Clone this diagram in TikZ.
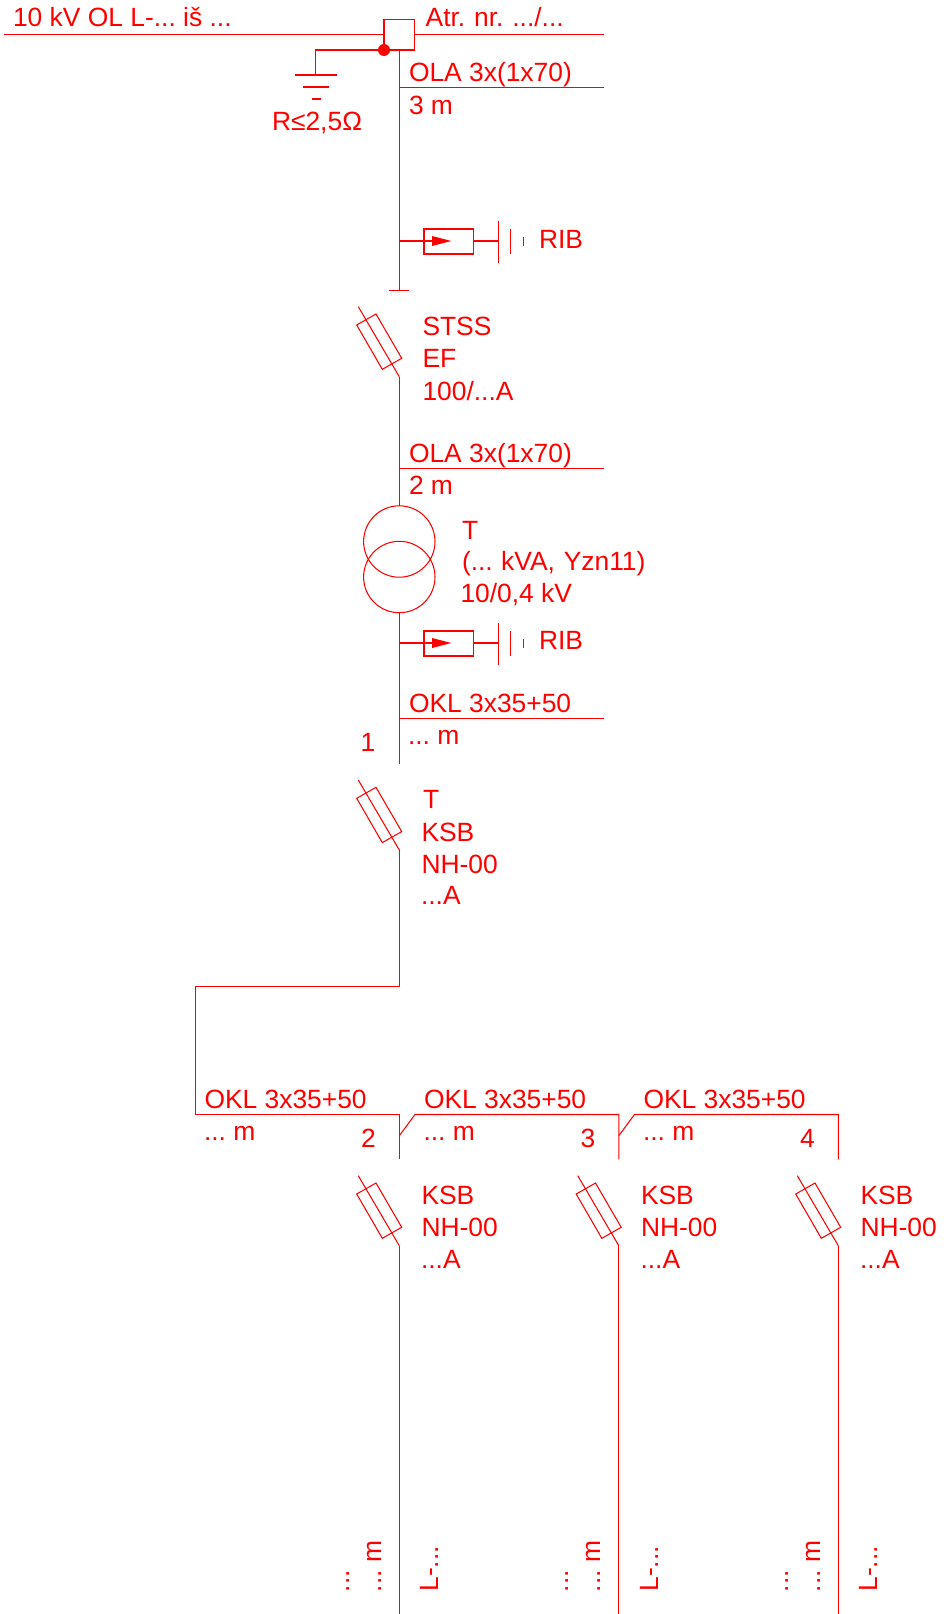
\documentclass[tikz,border=0pt]{standalone}
\usepackage{fontspec}
\setmainfont{Liberation Sans}
\frenchspacing
\definecolor{schem}{RGB}{255,0,0}
\tikzset{
  wire/.style={draw=schem,line width=1.05pt,line cap=butt,line join=miter},
  lbl/.style={text=schem,anchor=base west,inner sep=0pt,outer sep=0pt,font=\fontsize{26.4}{31}\selectfont},
  vlbl/.style={lbl,rotate=90},
  fusesym/.pic={
    \draw[wire] (-41,-70) -- (0,0);
    \draw[wire] (-42.6,-51.7) -- (-23.3,-62.7) -- (2.4,-18.4) -- (-17,-7.4) -- cycle;
  },
  arrester/.pic={
    \draw[wire] (0,0) -- (33,0);
    \draw[wire] (24.7,-12) rectangle (74.4,13);
    \fill[schem] (32.7,-5) -- (52,0) -- (32.7,5) -- cycle;
    \draw[wire] (74.4,0) -- (99,0);
    \draw[wire] (99,-20.5) -- (99,21.5);
    \draw[wire] (111.4,-12) -- (111.4,13);
    \draw[wire] (124,-4) -- (124,5);
  },
}
\begin{document}
\begin{tikzpicture}[x=1pt,y=-1pt]
\useasboundingbox (0,0) rectangle (943,1614);
% ---- junctions
\coordinate (lineL) at (4,34.3);
\coordinate (lineR) at (604,34.3);
\coordinate (sw1) at (384,19.3);
\coordinate (sw2) at (414.7,50);
\coordinate (dot) at (384,50);
\coordinate (tap) at (399.3,50);
\coordinate (gndTop) at (315.7,50);
\coordinate (gndBar) at (315.7,75);
\coordinate (stubEnd) at (399.3,290.7);
\coordinate (f1) at (399.3,376.7);
\coordinate (f2) at (399.3,850);
\coordinate (a1) at (399.3,241);
\coordinate (a2) at (399.3,643);
\coordinate (tr1) at (399.3,541.5);
\coordinate (tr2) at (399.3,577);
\coordinate (m1) at (399.3,764);
\coordinate (bendA) at (399.3,986.5);
\coordinate (bendB) at (195.7,986.5);
\coordinate (bendC) at (195.7,1114.5);
\coordinate (c2) at (399.3,1114.5);
\coordinate (c2e) at (399.3,1159.3);
\coordinate (c3) at (618.8,1114.5);
\coordinate (c3e) at (618.8,1159.3);
\coordinate (c4) at (838.3,1114.5);
\coordinate (c4e) at (838.3,1159.3);
\coordinate (f3) at (399.3,1245.7);
\coordinate (f4) at (618.8,1245.7);
\coordinate (f5) at (838.3,1245.7);
% ---- incoming line and pole switch
\draw[wire] (lineL) -- (sw1 |- lineL);
\draw[wire] (sw2 |- lineR) -- (lineR);
\draw[wire] (sw1) rectangle (sw2);
\fill[schem] (dot) circle (6);
\draw[wire] (dot) -- (gndTop) -- (gndBar);
\draw[wire] (295,75) -- (337,75);
\draw[wire] (303,87) -- (329,87);
\draw[wire] (312,99) -- (321,99);
% ---- main vertical
\draw[wire] (tap) -- (stubEnd);
\draw[wire] (389.3,290.7) -- (409.3,290.7);
\draw[wire] (399.3,87.7) -- (604,87.7);
\pic at (a1) {arrester};
\pic at (f1) {fusesym};
\draw[wire] (f1) -- (399.3,505.8);
\draw[wire] (399.3,468.5) -- (604,468.5);
\draw[wire] (tr1) circle (35.7);
\draw[wire] (tr2) circle (35.7);
\draw[wire] (399.3,612.7) -- (m1);
\pic at (a2) {arrester};
\draw[wire] (399.3,718.7) -- (604,718.7);
\pic at (f2) {fusesym};
\draw[wire] (f2) -- (bendA) -- (bendB) -- (bendC) -- (c2) -- (c2e);
\draw[wire] (399.3,1135.7) -- (415,1114.5) -- (c3) -- (c3e);
\draw[wire] (618.8,1135.7) -- (634.5,1114.5) -- (c4) -- (c4e);
\pic at (f3) {fusesym};
\pic at (f4) {fusesym};
\pic at (f5) {fusesym};
\draw[wire] (f3) -- (399.3,1614);
\draw[wire] (f4) -- (618.8,1614);
\draw[wire] (f5) -- (838.3,1614);
% ---- labels
\node[lbl] (t1) at (13,26) {10 kV OL L-... iš ...};
\node[lbl] (t2) at (425.7,26) {Atr.\kern1.5pt\ nr.\kern1.5pt\ .../...};
\node[lbl] (t3) at (409,81.7) {OLA 3x(1x70)};
\node[lbl] (t4) at (409,114) {3 m};
\node[lbl] (t5) at (272,130.7) {R≤2,5Ω};
\node[lbl] (t6) at (539,248) {RIB};
\node[lbl] (t7) at (422.5,335) {STSS};
\node[lbl] (t8) at (422.5,367.3) {EF};
\node[lbl] (t9) at (422.5,400) {100/...A};
\node[lbl] (t10) at (409,462) {OLA 3x(1x70)};
\node[lbl] (t11) at (409,494) {2 m};
\node[lbl] (t12) at (462,539) {T};
\node[lbl] (t13) at (462,570.7) {(...\kern1pt\ kVA,\kern1.5pt\ Yzn11)};
\node[lbl] (t14) at (460.5,602.7) {10/0,4 kV};
\node[lbl] (t15) at (539,649.5) {RIB};
\node[lbl] (t16) at (409,712.6) {OKL 3x35+50};
\node[lbl] (t17) at (408,744) {... m};
\node[lbl] (t18) at (360.5,751.7) {1};
\node[lbl] (t19) at (423,808.3) {T};
\node[lbl] (t20) at (421.5,841) {KSB};
\node[lbl] (t21) at (421.5,873) {NH-00};
\node[lbl] (t22) at (421,904) {...A};
\node[lbl] (t23) at (204.5,1108) {OKL 3x35+50};
\node[lbl] (t24) at (204,1140) {... m};
\node[lbl] (t25) at (361,1147.3) {2};
\node[lbl] (t26) at (424,1108) {OKL 3x35+50};
\node[lbl] (t27) at (423.5,1140) {... m};
\node[lbl] (t28) at (580.5,1147.3) {3};
\node[lbl] (t29) at (643.5,1108) {OKL 3x35+50};
\node[lbl] (t30) at (643,1140) {... m};
\node[lbl] (t31) at (800,1147.3) {4};
\node[lbl] (t32) at (421.5,1204.6) {KSB};
\node[lbl] (t33) at (421.5,1236.7) {NH-00};
\node[lbl] (t34) at (421,1268.3) {...A};
\node[lbl] (t35) at (641,1204.6) {KSB};
\node[lbl] (t36) at (641,1236.7) {NH-00};
\node[lbl] (t37) at (640.5,1268.3) {...A};
\node[lbl] (t38) at (860.5,1204.6) {KSB};
\node[lbl] (t39) at (860.5,1236.7) {NH-00};
\node[lbl] (t40) at (860,1268.3) {...A};
% ---- rotated cable labels
\node[vlbl] (v1) at (381,1592) {... m};
\node[vlbl] (v2) at (349,1592) {...};
\node[vlbl] (v3) at (438.5,1591.5) {L-...};
\node[vlbl] (v4) at (600.5,1592) {... m};
\node[vlbl] (v5) at (568.5,1592) {...};
\node[vlbl] (v6) at (658,1591.5) {L-...};
\node[vlbl] (v7) at (820,1592) {... m};
\node[vlbl] (v8) at (788,1592) {...};
\node[vlbl] (v9) at (877.5,1591.5) {L-...};
\end{tikzpicture}
\end{document}
